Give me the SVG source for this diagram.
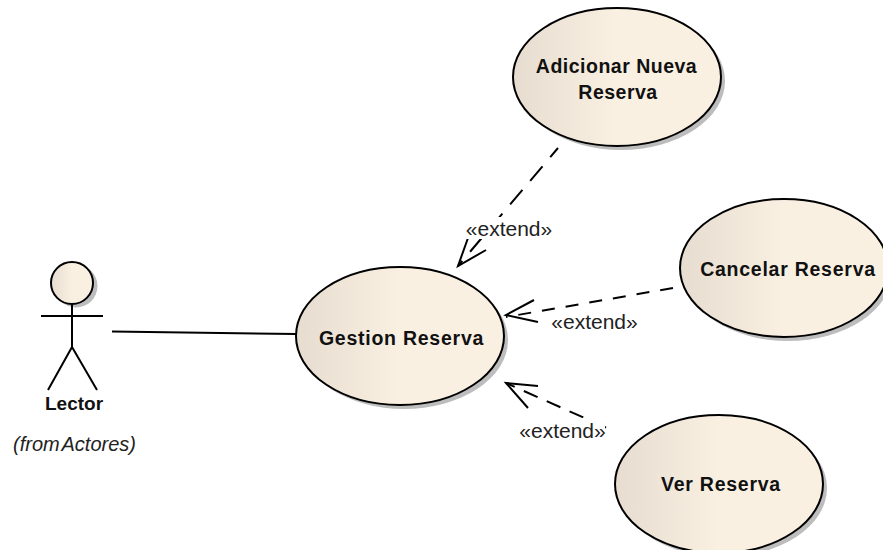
<svg xmlns="http://www.w3.org/2000/svg" width="883" height="550" viewBox="0 0 883 550">
<style>
.uc{fill:url(#g);stroke:#000;stroke-width:2}
.sh{fill:#bdbdbd}
.n{font:bold 19.500px "Liberation Sans",Arial,sans-serif;fill:#111;text-anchor:middle;letter-spacing:.75px}
.b{letter-spacing:.5px}
.a{font:bold 19px "Liberation Sans",Arial,sans-serif;fill:#111;text-anchor:middle}
.s{font:21px "Liberation Sans",Arial,sans-serif;fill:#222;text-anchor:middle}
.i{font:italic 20px "Liberation Sans",Arial,sans-serif;fill:#222;text-anchor:middle;word-spacing:-3px}
.l{fill:none;stroke:#000;stroke-width:2}
</style>
<defs><linearGradient id="g" x1="0" x2="1" y1="0" y2="0"><stop offset="0" stop-color="#e6ddd0"/><stop offset=".5" stop-color="#f9f0e2"/><stop offset="1" stop-color="#f9f0e2"/></linearGradient></defs>
<rect width="883" height="550" fill="#fff"/>
<g id="connectors">
<path class="l" d="M112 331.500L296 334"/>
<path class="l" stroke-dasharray="19 12" stroke-dashoffset="7" d="M558 148L458 266"/><path class="l" d="M468 238L458 266L486 250"/>
<path class="l" stroke-dasharray="13 11" d="M673 288L506 317"/><path class="l" d="M534 300L506 315L538 322"/>
<path class="l" stroke-dasharray="15 10" stroke-dashoffset="-1" d="M607 428L506 383"/><path class="l" d="M538 386L506 383L528 408"/>
</g>
<rect x="462" y="217" width="94" height="22" fill="#fff"/>
<rect x="548" y="311" width="94" height="24" fill="#fff"/>
<rect x="516" y="418" width="89" height="24" fill="#fff"/>
<text class="s" x="509" y="236">«extend»</text>
<text class="s" x="594.500" y="329">«extend»</text>
<text class="s" x="562.500" y="438">«extend»</text>
<g id="actor">
<circle class="sh" cx="76" cy="286" r="21.500"/>
<circle class="uc" cx="72" cy="283" r="21"/>
<path class="l" d="M72 304V347M41 316H103M72 347L48 390M72 347L97 390"/>
<text class="a" x="74" y="410">Lector</text>
<text class="i" x="74.500" y="451">(from Actores)</text>
</g>
<g id="uc-gestion">
<ellipse class="sh" cx="404" cy="340" rx="104" ry="69"/>
<ellipse class="uc" cx="400" cy="336" rx="104" ry="69"/>
<text class="n" x="401.500" y="345">Gestion Reserva</text>
</g>
<g id="uc-adicionar">
<ellipse class="sh" cx="621" cy="81" rx="104" ry="69"/>
<ellipse class="uc" cx="617" cy="77" rx="104" ry="69"/>
<text class="n b" x="616.500" y="73">Adicionar Nueva</text>
<text class="n b" x="618" y="99">Reserva</text>
</g>
<g id="uc-cancelar">
<ellipse class="sh" cx="788" cy="272" rx="104" ry="69"/>
<ellipse class="uc" cx="784" cy="268" rx="104" ry="69"/>
<text class="n" x="788" y="276">Cancelar Reserva</text>
</g>
<g id="uc-ver">
<ellipse class="sh" cx="723" cy="488" rx="104" ry="69"/>
<ellipse class="uc" cx="719" cy="484" rx="104" ry="69"/>
<text class="n" x="721" y="491">Ver Reserva</text>
</g>
</svg>
